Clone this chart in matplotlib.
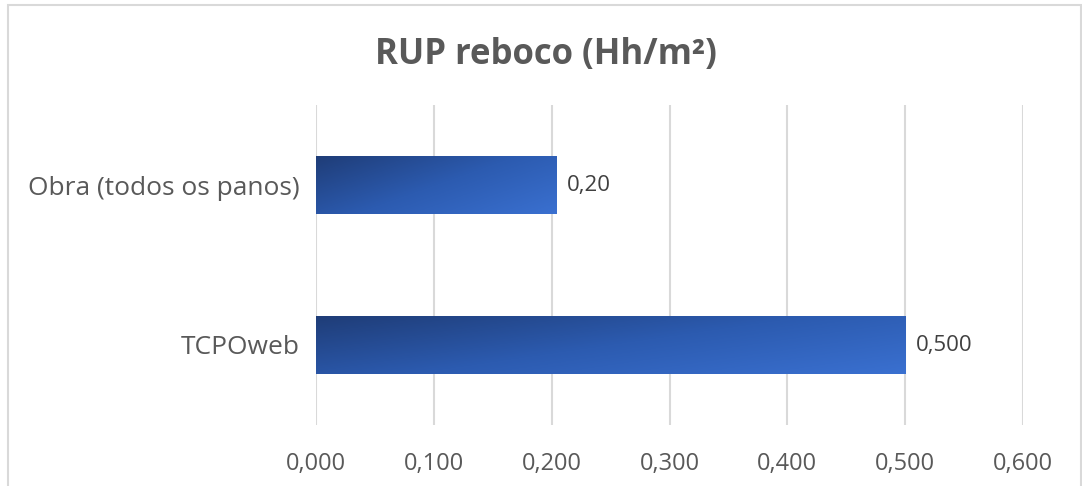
import matplotlib
matplotlib.use("Agg")
import matplotlib.pyplot as plt
import numpy as np
from matplotlib.patches import Rectangle
from matplotlib.colors import LinearSegmentedColormap

categories = ["TCPOweb", "Obra (todos os panos)"]
values = [0.500, 0.204]
value_labels = ["0,500", "0,20"]
xticks = [0.0, 0.1, 0.2, 0.3, 0.4, 0.5, 0.6]
xtick_labels = ["0,000", "0,100", "0,200", "0,300", "0,400", "0,500", "0,600"]
title = "RUP reboco (Hh/m²)"

FONT = "Open Sans"
TXT = "#595959"
GRID = "#d9d9d9"

fig = plt.figure(figsize=(10.82, 4.86), dpi=100)
ax = fig.add_axes([316/1082, 1-425/486, (1023-316)/1082, (425-105)/486])

# border of chart area
fig.patches.append(Rectangle((7.5/1082, -0.05), (1080.5-7.5)/1082, 1-5.5/486+0.05,
                             transform=fig.transFigure, fill=False,
                             edgecolor=GRID, linewidth=1.5, zorder=0))

ypos = np.arange(len(categories))
height = 0.36
bars = ax.barh(ypos, values, height=height, color="none", edgecolor="none", zorder=3)

cmap = LinearSegmentedColormap.from_list("g", ["#1f3d78", "#2c5bb0", "#3a70d0"])
gx, gy = np.meshgrid(np.linspace(0, 1, 200), np.linspace(0, 1, 50))
for b in bars:
    x0, y0 = b.get_x(), b.get_y()
    w, h = b.get_width(), b.get_height()
    grad = 0.6 * gx + 0.4 * (1 - gy)
    im = ax.imshow(grad, cmap=cmap, vmin=0, vmax=1, aspect="auto",
                   extent=(x0, x0 + w, y0 + h, y0), origin="upper", zorder=3,
                   interpolation="bilinear")
    im.set_clip_path(b)

for b, lab in zip(bars, value_labels):
    ax.text(b.get_width() + 0.009, b.get_y() + b.get_height()/2, lab,
            va="center", ha="left", fontsize=16, color="#404040", family=FONT)

ax.set_xlim(0, 0.6)
ax.set_ylim(-0.5, 1.5)
ax.set_xticks(xticks)
ax.set_xticklabels(xtick_labels, fontsize=17, color=TXT, family=FONT)
ax.set_yticks(ypos)
ax.set_yticklabels(categories, fontsize=19, color=TXT, family=FONT)
ax.tick_params(axis="x", length=0, pad=19.5)
ax.tick_params(axis="y", length=0, pad=12)
ax.grid(axis="x", color=GRID, linewidth=1.5, zorder=0)
ax.set_axisbelow(True)
for s in ax.spines.values():
    s.set_visible(False)

fig.text(546/1082, 1-55/486, title, ha="center", va="center", fontsize=25,
         fontweight="bold", color=TXT, family=FONT)

fig.savefig("out.png", dpi=100)
